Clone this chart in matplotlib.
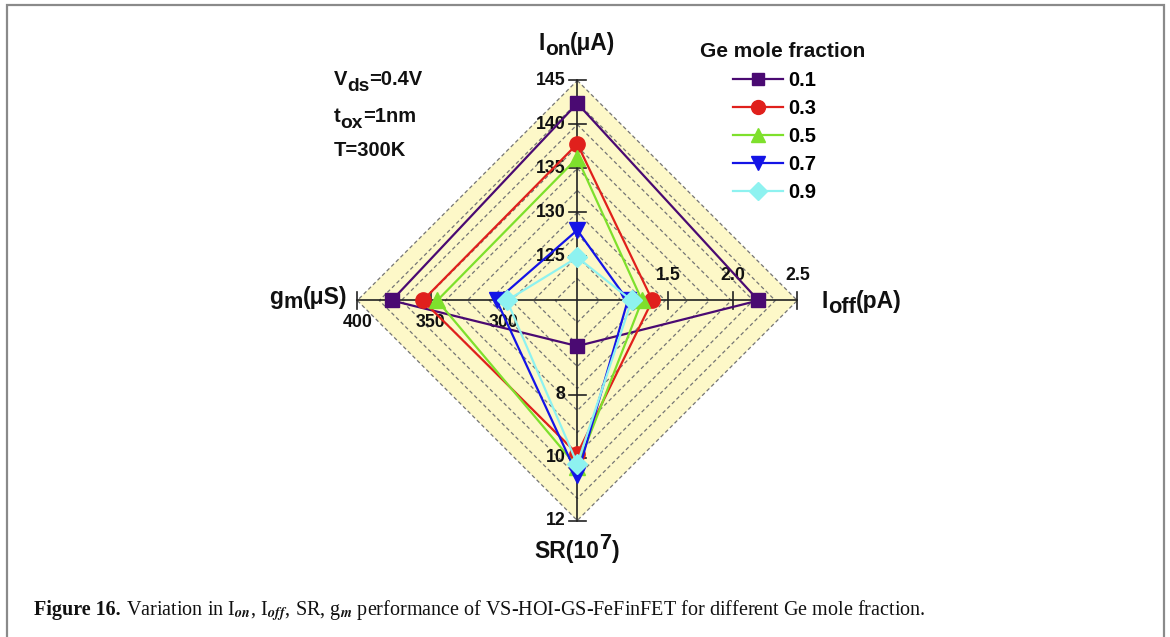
import matplotlib
matplotlib.use("Agg")
import matplotlib.pyplot as plt
from matplotlib.lines import Line2D

plt.rcParams['font.family'] = ['Liberation Sans', 'DejaVu Sans']
plt.rcParams['font.weight'] = 'bold'

# ---------------- data ----------------
fractions = ['0.1', '0.3', '0.5', '0.7', '0.9']
ion = [142.4, 137.8, 136.2, 128.0, 124.9]      # uA
ioff = [2.20, 1.38, 1.30, 1.19, 1.22]          # pA
sr = [6.45, 9.88, 10.3, 10.56, 10.2]           # 1e7
gm = [376.5, 355.4, 345.5, 305.0, 298.0]       # uS

ion_range = (120, 145)
ioff_range = (0.8, 2.5)
sr_range = (5, 12)
gm_range = (250, 400)

ion_ticks = [125, 130, 135, 140, 145]
ioff_ticks = [1.5, 2.0, 2.5]
ioff_ticklabels = ['1.5', '2.0', '2.5']
sr_ticks = [8, 10, 12]
gm_ticks = [300, 350, 400]

colors = ['#4a0a72', '#e0201c', '#7ee02c', '#1414e6', '#8ef2f0']
markers = ['s', 'o', '^', 'v', 'D']
msizes = [10, 11, 11, 11, 10]

W, H = 1170, 637
fig = plt.figure(figsize=(W / 100, H / 100), dpi=100)
renderer = fig.canvas.get_renderer()


def fx(px):
    return px / W


def fy(py):
    return 1 - py / H


def rich(x_px, y_base, pieces, size, ha='left', **kw):
    """pieces: (text, scale, dy_px) drawn one after another on a baseline."""
    arts, widths = [], []
    for txt, sc, dy in pieces:
        a = fig.text(0, 0, txt, fontsize=size * sc, va='baseline', ha='left', **kw)
        widths.append(a.get_window_extent(renderer=renderer).width)
        arts.append((a, dy))
    total = sum(widths)
    x = x_px - {'left': 0, 'center': total / 2, 'right': total}[ha]
    for (a, dy), w in zip(arts, widths):
        a.set_position((fx(x), fy(y_base + dy)))
        x += w


# frame border around the figure panel
border = fig.add_axes([0, 0, 1, 1])
border.set_xlim(0, W)
border.set_ylim(H, 0)
border.axis('off')
border.plot([7, 7, 1164, 1164], [H + 5, 5, 5, H + 5], color='#8a8a8a', lw=1.6,
            solid_joinstyle='miter', clip_on=False)

# radar axes: centre at (577, 300.5) px, radius 220 px
cx, cy, R = 577.3, 300.5, 220.0
span = 1.1
ax = fig.add_axes([fx(cx - span * R), fy(cy + span * R), 2 * span * R / W, 2 * span * R / H])
ax.set_xlim(-span, span)
ax.set_ylim(-span, span)
ax.axis('off')


def norm(v, rng):
    return (v - rng[0]) / (rng[1] - rng[0])


# background diamond + dashed grid
ax.fill([0, 1, 0, -1], [1, 0, -1, 0], color='#fdf8c8', zorder=0, lw=0)
for k in range(1, 11):
    r = k / 10
    ax.plot([0, r, 0, -r, 0], [r, 0, -r, 0, r], color='#757575', lw=0.9,
            ls=(0, (3, 2.2)), zorder=1)

# axes cross
ax.plot([-1, 1], [0, 0], color='#222222', lw=1.2, zorder=2)
ax.plot([0, 0], [-1, 1], color='#222222', lw=1.2, zorder=2)

t = 8.5 / R
tick_kw = dict(color='#222222', lw=1.2, zorder=2)
lab_kw = dict(fontsize=12.8, fontweight='bold', color='#111111')
for v in ion_ticks:
    y = norm(v, ion_range)
    ax.plot([-t, t], [y, y], **tick_kw)
    ax.text(-12 / R, y, str(v), ha='right', va='center', **lab_kw)
for v, s in zip(ioff_ticks, ioff_ticklabels):
    x = norm(v, ioff_range)
    ax.plot([x, x], [-t, t], **tick_kw)
    ax.text(x, 16 / R, s, ha='center', va='bottom', **lab_kw)
for v in sr_ticks:
    y = -norm(v, sr_range)
    ax.plot([-t, t], [y, y], **tick_kw)
    ax.text(-12 / R, y, str(v), ha='right', va='center', **lab_kw)
for v in gm_ticks:
    x = -norm(v, gm_range)
    ax.plot([x, x], [-t, t], **tick_kw)
    ax.text(x, -22 / R, str(v), ha='center', va='center', **lab_kw)

# series
handles = []
for i, lab in enumerate(fractions):
    xs = [0, norm(ioff[i], ioff_range), 0, -norm(gm[i], gm_range)]
    ys = [norm(ion[i], ion_range), 0, -norm(sr[i], sr_range), 0]
    xs.append(xs[0])
    ys.append(ys[0])
    ax.plot(xs, ys, color=colors[i], lw=1.6, zorder=3 + i)
    ax.plot(xs[:-1], ys[:-1], ls='none', marker=markers[i], ms=msizes[i],
            mfc=colors[i], mec=colors[i], zorder=3 + i)
    handles.append(Line2D([], [], color=colors[i], lw=1.6, marker=markers[i],
                          ms=msizes[i] - 1, mfc=colors[i], mec=colors[i]))

# legend
fig.text(fx(783), fy(51.5), 'Ge mole fraction', ha='center', va='center',
         fontsize=15, fontweight='bold', color='#111111')
fig.legend(handles, fractions, loc='upper left',
           bbox_to_anchor=(fx(733), fy(71)), frameon=False, borderpad=0, borderaxespad=0,
           prop=dict(weight='bold', size=14.5), handlelength=2.5,
           handletextpad=0.25, labelspacing=0.45)

# axis labels
lab_color = '#111111'
rich(577, 50, [('I', 1, 0), ('on', 0.92, 5), ('(μA)', 1, 0)], 16.3, ha='center',
     color=lab_color, fontweight='bold')
rich(822, 308, [('I', 1, 0), ('off', 0.95, 5), ('(pA)', 1, 0)], 16.5, ha='left',
     color=lab_color, fontweight='bold')
rich(347, 304, [('g', 1, 0), ('m', 0.95, 4), ('(μS)', 1, 0)], 16.5, ha='right',
     color=lab_color, fontweight='bold')
rich(577, 558, [('SR(10', 1, 0), ('7', 0.95, -9), (')', 1, 0)], 16.5, ha='center',
     color=lab_color, fontweight='bold')

# conditions
rich(334, 85, [('V', 1, 0), ('ds', 0.95, 6), ('=0.4V', 1, 0)], 14.5, color=lab_color,
     fontweight='bold')
rich(334, 122, [('t', 1, 0), ('ox', 0.95, 6), ('=1nm', 1, 0)], 14.5, color=lab_color,
     fontweight='bold')
rich(334, 156, [('T=300K', 1, 0)], 14.5, color=lab_color, fontweight='bold')

# caption
cap_y = fy(615)
t1 = fig.text(fx(34), cap_y, 'Figure 16.', fontsize=14.5, fontweight='bold',
              family='Liberation Serif', va='baseline', ha='left', color='#111111')
bb = t1.get_window_extent(renderer=renderer)
fig.text(bb.x1 / W, cap_y,
         r' Variation in I$_{\mathit{on}}$, I$_{\mathit{off}}$, SR, g$_{\mathit{m}}$ performance of '
         r'VS-HOI-GS-FeFinFET for different Ge mole fraction.',
         fontsize=14.5, fontweight='normal', family='Liberation Serif', math_fontfamily='stix',
         va='baseline', ha='left', color='#111111')

fig.savefig('out.png', dpi=100)
